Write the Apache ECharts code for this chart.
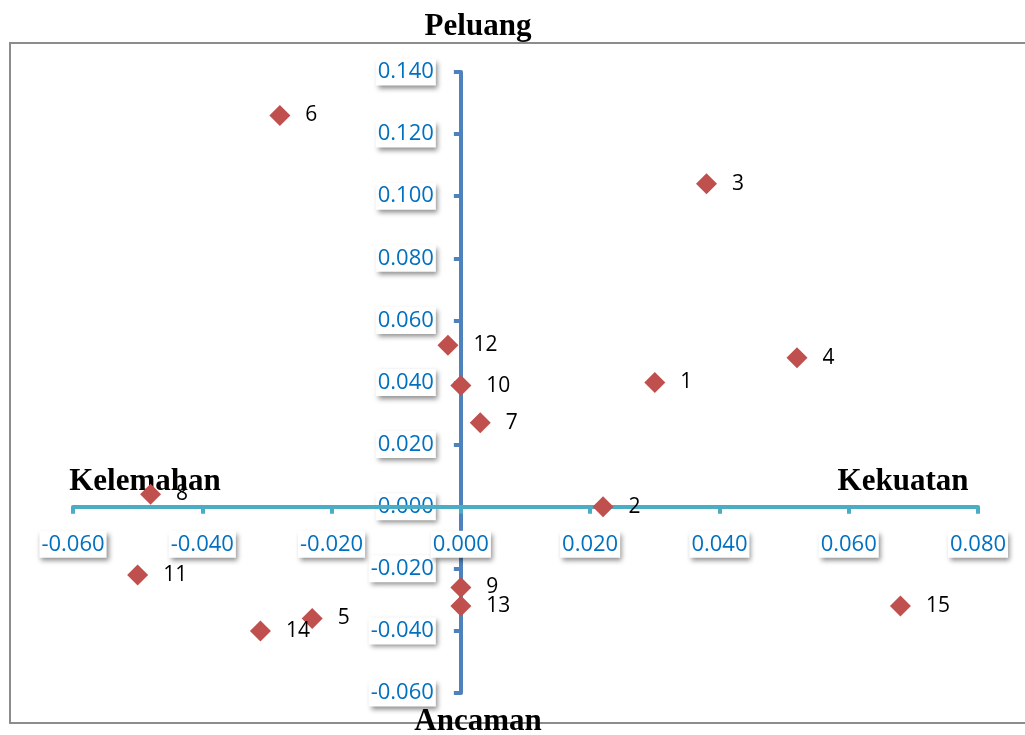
<!DOCTYPE html>
<html>
<head>
<meta charset="utf-8">
<script src="https://cdn.jsdelivr.net/npm/echarts@6/dist/echarts.min.js"></script>
<style>html,body{margin:0;padding:0;background:#fff;}#c{width:1025px;height:735px;}</style>
</head>
<body>
<div id="c"></div>
<script>
const pointNames = ['1','2','3','4','5','6','7','8','9','10','11','12','13','14','15'];
const xValues = [0.030, 0.022, 0.038, 0.052, -0.023, -0.028, 0.003, -0.048, 0.000, 0.000, -0.050, -0.002, 0.000, -0.031, 0.068];
const yValues = [0.040, 0.000, 0.104, 0.048, -0.036, 0.126, 0.027, 0.004, -0.026, 0.039, -0.022, 0.052, -0.032, -0.040, -0.032];
const xTicks = {min: -0.06, max: 0.08, interval: 0.02};
const yTicks = {min: -0.06, max: 0.14, interval: 0.02};
const axisTitles = {top: 'Peluang', bottom: 'Ancaman', left: 'Kelemahan', right: 'Kekuatan'};

const data = pointNames.map((n, i) => ({name: n, value: [xValues[i], yValues[i]]}));
const G = {left: 73, right: 47, top: 72, bottom: 42, W: 1025, H: 735};
const gw = G.W - G.left - G.right, gh = G.H - G.top - G.bottom;
const yAxisOffset = -gw * (0 - xTicks.min) / (xTicks.max - xTicks.min);
const xAxisOffset = -gh * (0 - yTicks.min) / (yTicks.max - yTicks.min);

const chart = echarts.init(document.getElementById('c'), null, {renderer: 'canvas'});
const boxLabel = {
  color: '#0070C0', fontFamily: 'Open Sans', fontSize: 22,
  backgroundColor: '#fff', padding: [3, 2, 2, 2],
  shadowColor: 'rgba(0,0,0,0.45)', shadowBlur: 5, shadowOffsetX: 2, shadowOffsetY: 3,
  formatter: v => v.toFixed(3)
};
const titleStyle = {fontFamily: 'Liberation Serif', fontWeight: 'bold', fontSize: 31, fill: '#000'};
chart.setOption({
  animation: false,
  grid: {left: G.left, right: G.right, top: G.top, bottom: G.bottom, containLabel: false, outerBoundsMode: 'none'},
  xAxis: {
    type: 'value', min: xTicks.min, max: xTicks.max, interval: xTicks.interval,
    position: 'bottom', offset: xAxisOffset,
    axisLine: {onZero: false, lineStyle: {color: '#4BACC6', width: 4}},
    axisTick: {show: true, length: 7, lineStyle: {color: '#4BACC6', width: 4}},
    splitLine: {show: false},
    axisLabel: Object.assign({margin: 24}, boxLabel),
    z: 3
  },
  yAxis: {
    type: 'value', min: yTicks.min, max: yTicks.max, interval: yTicks.interval,
    position: 'left', offset: yAxisOffset,
    axisLine: {onZero: false, lineStyle: {color: '#4F81BD', width: 4}},
    axisTick: {show: true, length: 7, lineStyle: {color: '#4F81BD', width: 4}},
    splitLine: {show: false},
    axisLabel: Object.assign({margin: 25}, boxLabel),
    z: 2
  },
  graphic: [
    {type: 'rect', shape: {x: 10, y: 43, width: 1040, height: 680}, style: {fill: 'none', stroke: '#8c8c8c', lineWidth: 2}, z: 0, silent: true},
    {type: 'text', x: 478, y: 27, style: Object.assign({text: axisTitles.top, textAlign: 'center', textVerticalAlign: 'middle'}, titleStyle), z: 10},
    {type: 'text', x: 478, y: 722, style: Object.assign({text: axisTitles.bottom, textAlign: 'center', textVerticalAlign: 'middle'}, titleStyle), z: 10},
    {type: 'text', x: 145, y: 482, style: Object.assign({text: axisTitles.left, textAlign: 'center', textVerticalAlign: 'middle'}, titleStyle), z: 1},
    {type: 'text', x: 903, y: 482, style: Object.assign({text: axisTitles.right, textAlign: 'center', textVerticalAlign: 'middle'}, titleStyle), z: 1}
  ],
  series: [{
    type: 'scatter', symbol: 'diamond', symbolSize: 21,
    itemStyle: {color: '#C0504D', opacity: 1},
    label: {show: true, position: 'right', distance: 15, formatter: p => p.name,
      color: '#000', fontFamily: 'Open Sans', fontSize: 21},
    data: data, z: 5
  }]
});
</script>
</body>
</html>
